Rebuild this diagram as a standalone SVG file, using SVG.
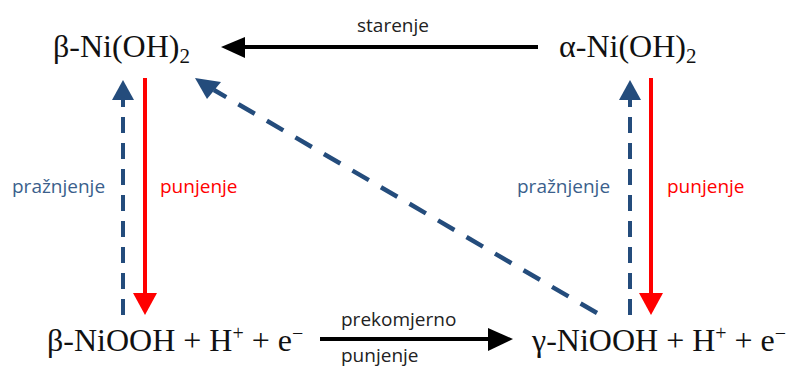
<svg xmlns="http://www.w3.org/2000/svg" width="787" height="367" viewBox="0 0 787 367">
<defs>
<style>
.chem{font-family:"Liberation Serif","Times New Roman",serif;font-size:32px;fill:#111}
.sub{font-size:21px}
.sup{font-size:20px}
.lbl{font-family:"Open Sans","Liberation Sans",sans-serif;font-size:19px}
.blk{fill:#222}
.blue{fill:#3b5f8c}
.red{fill:#ff0000}
.k{stroke:#000;stroke-width:4;fill:none}
.bd{stroke:#244c7c;stroke-width:4;fill:none;stroke-dasharray:16 10}
.bdd{stroke:#244c7c;stroke-width:4.5;fill:none;stroke-dasharray:19 14}
.rd{stroke:#ff0000;stroke-width:4;fill:none}
</style>
</defs>
<rect width="787" height="367" fill="#fff"/>
<g id="beta-nioh2"><text class="chem" x="53" y="57">β-Ni(OH)<tspan class="sub" dy="6">2</tspan></text></g>
<g id="alpha-nioh2"><text class="chem" x="559" y="57">α-Ni(OH)<tspan class="sub" dy="6">2</tspan></text></g>
<g id="beta-niooh"><text class="chem" x="47" y="351">β-NiOOH + H<tspan class="sup" dy="-11">+</tspan><tspan dy="11"> + e</tspan><tspan class="sup" dy="-11">−</tspan></text></g>
<g id="gamma-niooh"><text class="chem" x="532" y="351">γ-NiOOH + H<tspan class="sup" dy="-11">+</tspan><tspan dy="11"> + e</tspan><tspan class="sup" dy="-11">−</tspan></text></g>
<g id="connectors">
<line class="k" x1="243" y1="47" x2="538" y2="47"/>
<polygon points="221,47 245,37 245,58" fill="#000"/>
<text class="lbl blk" x="393" y="32" text-anchor="middle">starenje</text>
<line class="k" x1="320" y1="339" x2="490" y2="339"/>
<polygon points="513,339 488,328 488,351" fill="#000"/>
<text class="lbl blk" x="341" y="326">prekomjerno</text>
<text class="lbl blk" x="341" y="362">punjenje</text>
<line class="bd" x1="123" y1="315" x2="123" y2="100"/>
<polygon points="123,80 112,100 134,100" fill="#244c7c"/>
<line class="rd" x1="145" y1="78" x2="145" y2="295"/>
<polygon points="145,315 133,293 157,293" fill="#ff0000"/>
<text class="lbl blue" x="12" y="193">pražnjenje</text>
<text class="lbl red" x="160" y="193">punjenje</text>
<line class="bd" x1="630" y1="315" x2="630" y2="100"/>
<polygon points="630,80 619,100 641,100" fill="#244c7c"/>
<line class="rd" x1="651" y1="78" x2="651" y2="295"/>
<polygon points="651,315 639,293 663,293" fill="#ff0000"/>
<text class="lbl blue" x="517" y="193">pražnjenje</text>
<text class="lbl red" x="667" y="193">punjenje</text>
<line class="bdd" x1="597" y1="313" x2="214" y2="90"/>
<polygon points="195,78 221,82 207,99" fill="#244c7c"/>
</g>
</svg>
